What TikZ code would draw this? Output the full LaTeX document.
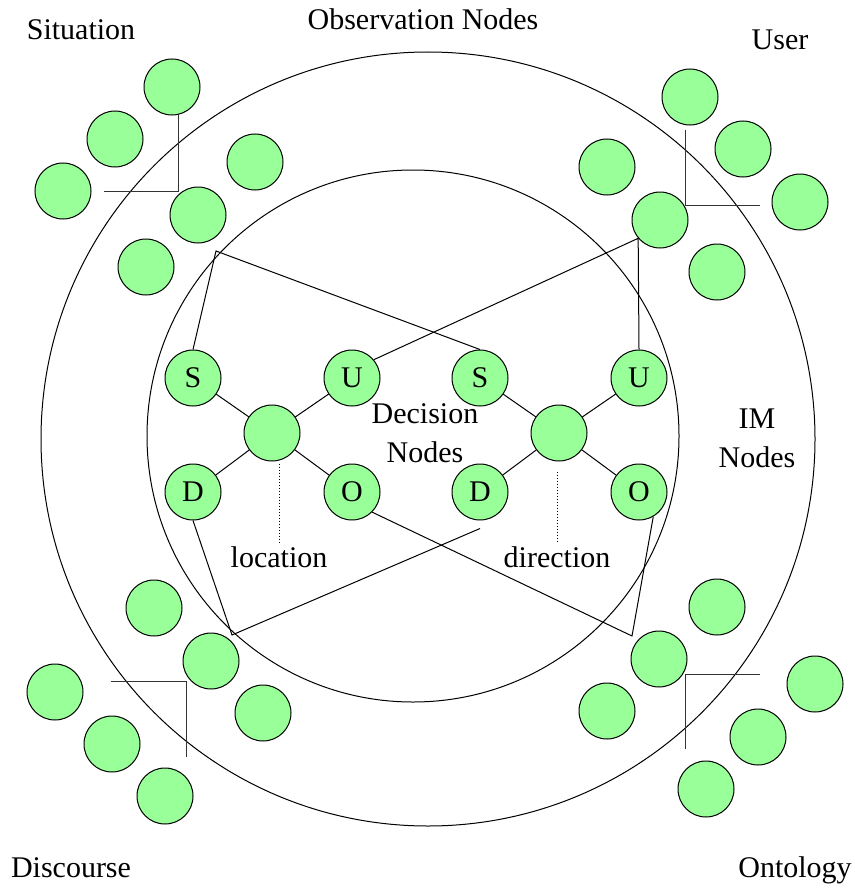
\documentclass[tikz,border=0pt]{standalone}
\usepackage{fontspec}
\setmainfont{Liberation Serif}
\definecolor{nodegreen}{RGB}{153,255,153}
\begin{document}
\begin{tikzpicture}[x=1pt,y=-1pt,line width=1pt,
    every node/.style={font=\fontsize{30}{39}\selectfont},
    obs/.style={circle,draw=black,fill=nodegreen,minimum size=56pt,inner sep=0pt},
    elbow/.style={draw=black!80}]

      \useasboundingbox (0,0) rectangle (854,888);

      \draw (428,439) circle[radius=387pt];
      \draw (413,436) circle[radius=266pt];

      \node[anchor=base] (sit) at (81,40){Situation};
      \node[anchor=base] (obsn) at (423,30){Observation Nodes};
      \node[anchor=base] (usr) at (780,50){User};
      \node[anchor=base] (dis) at (71,877){Discourse};
      \node[anchor=base] (ont) at (795,877){Ontology};
      \node[align=center] (imn) at (757,438){IM\\Nodes};
      \node[align=center] (decn) at (425,433){Decision\\Nodes};

      % observation nodes
      \node[obs] (sit1) at (172,87){};
      \node[obs] (sit2) at (115,139){};
      \node[obs] (sit3) at (63,191){};
      \node[obs] (sit4) at (255,162){};
      \node[obs] (sit5) at (198,215){};
      \node[obs] (sit6) at (146,267){};

      \node[obs] (usr1) at (690,97){};
      \node[obs] (usr2) at (743,149){};
      \node[obs] (usr3) at (800,202){};
      \node[obs] (usr4) at (607,167){};
      \node[obs] (usr5) at (660,220){};
      \node[obs] (usr6) at (717,272){};

      \node[obs] (dis1) at (154,608){};
      \node[obs] (dis2) at (211,661){};
      \node[obs] (dis3) at (263,713){};
      \node[obs] (dis4) at (55,692){};
      \node[obs] (dis5) at (112,744){};
      \node[obs] (dis6) at (165,796){};

      \node[obs] (ont1) at (717,607){};
      \node[obs] (ont2) at (659,659){};
      \node[obs] (ont3) at (607,711){};
      \node[obs] (ont4) at (815,684){};
      \node[obs] (ont5) at (758,737){};
      \node[obs] (ont6) at (706,789){};

      \draw[elbow] ([xshift=6pt]sit1.south) |- ([xshift=12pt]sit3.east);
      \draw[elbow] ([xshift=-5pt,yshift=-4pt]usr1.south) |- ([xshift=-12pt,yshift=-3pt]usr3.west);
      \draw[elbow] ([xshift=27pt,yshift=11pt]dis4.east) -| ([xshift=21pt,yshift=11pt]dis6.north);
      \draw[elbow] ([xshift=-27pt,yshift=10pt]ont4.west) -| ([xshift=-21pt,yshift=12pt]ont6.north);

      % decision nodes
      \node[obs] (hubL) at (272,433){};
      \node[obs] (sL) at (193,378){S};
      \node[obs] (uL) at (352,378){U};
      \node[obs] (dL) at (193,492){D};
      \node[obs] (oL) at (352,492){O};

      \node[obs] (hubR) at (559,433){};
      \node[obs] (sR) at (480,378){S};
      \node[obs] (uR) at (639,378){U};
      \node[obs] (dR) at (480,492){D};
      \node[obs] (oR) at (639,492){O};

      \draw (hubL) -- (sL);
      \draw (hubL) -- (uL);
      \draw (hubL) -- (dL);
      \draw (hubL) -- (oL);
      \draw (hubR) -- (sR);
      \draw (hubR) -- (uR);
      \draw (hubR) -- (dR);
      \draw (hubR) -- (oR);

      \node[anchor=base] (locL) at (279,567){location};
      \node[anchor=base] (dirR) at (557,567){direction};
      \draw[dotted] ([yshift=-2pt]hubL.south -| locL.north) -- (locL.north);
      \draw[dotted] ([yshift=-10pt]hubR.south -| dirR.north) -- (dirR.north);

      \coordinate (sitin) at (216,251);
      \coordinate (disin) at (232,635);
      \coordinate (ontin) at (632,636);

      \draw (sL.north) -- (sitin) -- (sR.north);
      \draw (uL.40) -- (usr5.220) -- (uR.north);
      \draw (dL.south) -- (disin) -- ([yshift=-8pt]dR.south);
      \draw (oL.-45) -- (ontin) -- (oR.-60);

    \end{tikzpicture}
\end{document}
